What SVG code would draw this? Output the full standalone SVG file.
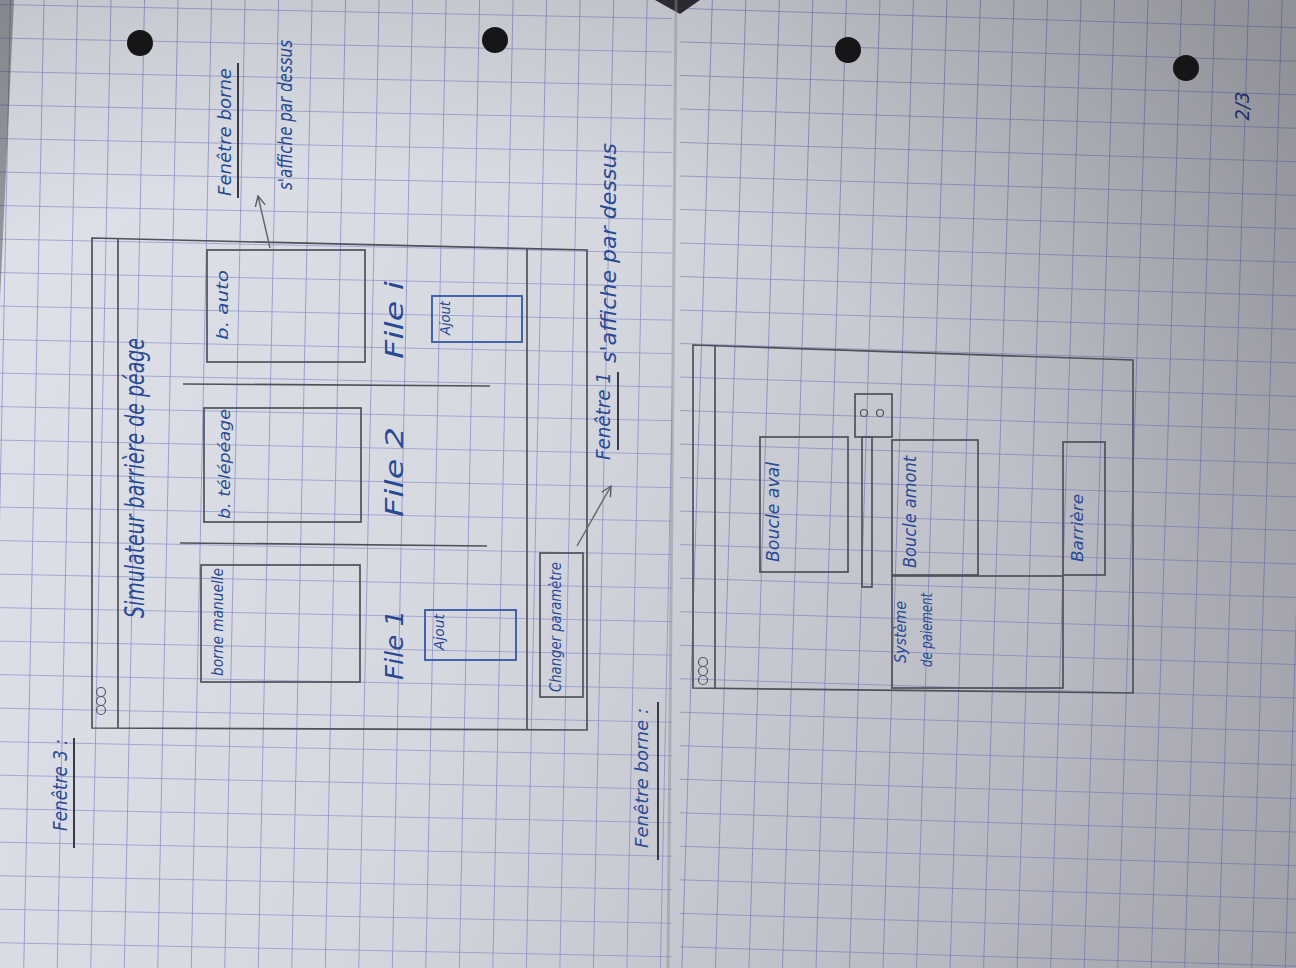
<svg xmlns="http://www.w3.org/2000/svg" width="1296" height="968" viewBox="0 0 1296 968">
<defs>
<linearGradient id="paper" x1="0" y1="0" x2="1" y2="0.3">
<stop offset="0" stop-color="#dfe2ea"/>
<stop offset="0.5" stop-color="#d6d8e0"/>
<stop offset="1" stop-color="#b4b5be"/>
</linearGradient>
<radialGradient id="vig" cx="0.3" cy="0.7" r="0.95">
<stop offset="0.55" stop-color="#000" stop-opacity="0"/>
<stop offset="1" stop-color="#000" stop-opacity="0.22"/>
</radialGradient>
<pattern id="gridL" width="33.5" height="33.5" patternUnits="userSpaceOnUse" x="10" y="4" patternTransform="rotate(1.2)">
<path d="M0 0H33.5M0 0V33.5" fill="none" stroke="#8487c4" stroke-width="1.7" stroke-opacity="0.85"/>
</pattern>
<pattern id="gridR" width="33.5" height="33.5" patternUnits="userSpaceOnUse" x="8" y="20" patternTransform="rotate(1.8)">
<path d="M0 0H33.5M0 0V33.5" fill="none" stroke="#7a7cb4" stroke-width="1.7" stroke-opacity="0.85"/>
</pattern>
<marker id="arr" viewBox="0 0 12 12" refX="11" refY="6" markerWidth="12" markerHeight="12" markerUnits="userSpaceOnUse" orient="auto">
<path d="M1 1L11 6L1 11" fill="none" stroke="#5a5a60" stroke-width="1.4"/>
</marker>
</defs>
<style>
.box{fill:none;stroke:#505158;stroke-width:1.7}
.bbox{fill:none;stroke:#3b5ea6;stroke-width:1.9}
.ink{font-family:"DejaVu Sans Condensed","Liberation Sans",sans-serif;font-style:italic;fill:#284a94;text-anchor:middle;dominant-baseline:central}
.ul{stroke:#3a3a44;stroke-width:2}
.con{fill:none;stroke:#6a6a70;stroke-width:1.5}
.btn{fill:none;stroke:#55565c;stroke-width:1.2}
</style>
<rect width="1296" height="968" fill="url(#paper)"/>
<rect x="0" y="0" width="672" height="968" fill="url(#gridL)"/>
<rect x="680" y="0" width="616" height="968" fill="url(#gridR)"/>
<rect width="1296" height="968" fill="url(#vig)"/>
<polygon points="0,0 14,0 0,300" fill="#3a3b40" opacity="0.45"/>
<polygon points="655,0 700,0 680,14" fill="#2a2a30"/>
<line x1="676" y1="0" x2="668" y2="968" stroke="#8a8a94" stroke-width="3" opacity="0.45"/>
<g id="holes" fill="#161618">
<circle cx="140" cy="43" r="13"/>
<circle cx="495" cy="40" r="13"/>
<circle cx="848" cy="50" r="13"/>
<circle cx="1186" cy="68" r="13"/>
</g>

<g id="label-fenetre3">
<text class="ink" transform="translate(60,785) rotate(-90)" font-size="20" textLength="92" lengthAdjust="spacingAndGlyphs">Fenêtre 3 :</text>
<line class="ul" x1="74" y1="738" x2="74" y2="848"/>
</g>

<g id="window1">
<path class="box" d="M92 238L587 250L587 730L92 728Z"/>
<line class="box" x1="118" y1="239" x2="118" y2="728"/>
<line class="box" x1="527" y1="249" x2="527" y2="730"/>
<g class="btn"><circle cx="101" cy="692" r="4.5"/><circle cx="101" cy="701" r="4.5"/><circle cx="101" cy="710" r="4.5"/></g>
<text class="ink" transform="translate(135,478) rotate(-90)" font-size="26" textLength="280" lengthAdjust="spacingAndGlyphs">Simulateur barrière de péage</text>
<line class="box" x1="183" y1="384" x2="490" y2="386"/>
<line class="box" x1="180" y1="543" x2="487" y2="546"/>
</g>

<g id="box-bauto">
<rect class="box" x="207" y="250" width="158" height="112"/>
<text class="ink" transform="translate(222,305) rotate(-90)" font-size="16" textLength="70" lengthAdjust="spacingAndGlyphs">b. auto</text>
</g>
<g id="box-btelepeage">
<rect class="box" x="204" y="408" width="157" height="114"/>
<text class="ink" transform="translate(224,464) rotate(-90)" font-size="16" textLength="110" lengthAdjust="spacingAndGlyphs">b. télépéage</text>
</g>
<g id="box-borne-manuelle">
<rect class="box" x="201" y="565" width="159" height="117"/>
<text class="ink" transform="translate(217,622) rotate(-90)" font-size="16" textLength="108" lengthAdjust="spacingAndGlyphs">borne manuelle</text>
</g>

<g id="file1">
<text class="ink" transform="translate(395,645) rotate(-90)" font-size="24" textLength="70" lengthAdjust="spacingAndGlyphs">File 1</text>
<rect class="bbox" x="425" y="610" width="91" height="50"/>
<text class="ink" transform="translate(439,632) rotate(-90)" font-size="14" textLength="36" lengthAdjust="spacingAndGlyphs">Ajout</text>
</g>
<g id="file2">
<text class="ink" transform="translate(395,472) rotate(-90)" font-size="24" textLength="90" lengthAdjust="spacingAndGlyphs">File 2</text>
</g>
<g id="filei">
<text class="ink" transform="translate(395,320) rotate(-90)" font-size="24" textLength="78" lengthAdjust="spacingAndGlyphs">File i</text>
<rect class="bbox" x="432" y="296" width="90" height="46"/>
<text class="ink" transform="translate(445,318) rotate(-90)" font-size="14" textLength="34" lengthAdjust="spacingAndGlyphs">Ajout</text>
</g>

<g id="btn-changer">
<rect class="box" x="540" y="553" width="43" height="144"/>
<text class="ink" transform="translate(556,627) rotate(-90)" font-size="15" textLength="130" lengthAdjust="spacingAndGlyphs">Changer paramètre</text>
</g>

<g id="note-fenetre-borne">
<text class="ink" transform="translate(224,132) rotate(-90)" font-size="18" textLength="128" lengthAdjust="spacingAndGlyphs">Fenêtre borne</text>
<line class="ul" x1="238" y1="63" x2="238" y2="198"/>
<text class="ink" transform="translate(285,115) rotate(-90)" font-size="20" textLength="150" lengthAdjust="spacingAndGlyphs">s'affiche par dessus</text>
</g>

<g id="note-fenetre1">
<text class="ink" transform="translate(603,416) rotate(-90)" font-size="20" textLength="88" lengthAdjust="spacingAndGlyphs">Fenêtre 1</text>
<line class="ul" x1="618" y1="372" x2="618" y2="450"/>
<text class="ink" transform="translate(608,253) rotate(-90)" font-size="22" textLength="220" lengthAdjust="spacingAndGlyphs">s'affiche par dessus</text>
</g>

<g id="connectors">
<line class="con" x1="270" y1="248" x2="258" y2="196" marker-end="url(#arr)"/>
<line class="con" x1="577" y1="546" x2="611" y2="486" marker-end="url(#arr)"/>
</g>

<g id="label-fenetre-borne">
<text class="ink" transform="translate(641,778) rotate(-90)" font-size="18" textLength="140" lengthAdjust="spacingAndGlyphs">Fenêtre borne :</text>
<line class="ul" x1="658" y1="702" x2="658" y2="860"/>
</g>

<g id="window2">
<path class="box" d="M693 345L1133 360L1133 693L693 688Z"/>
<line class="box" x1="715" y1="346" x2="715" y2="689"/>
<g class="btn"><circle cx="703" cy="662" r="4.5"/><circle cx="703" cy="671" r="4.5"/><circle cx="703" cy="680" r="4.5"/></g>
</g>

<g id="box-boucle-aval">
<rect class="box" x="760" y="437" width="88" height="135"/>
<text class="ink" transform="translate(773,512) rotate(-90)" font-size="17" textLength="100" lengthAdjust="spacingAndGlyphs">Boucle aval</text>
</g>
<g id="feu">
<rect class="box" x="855" y="394" width="37" height="43"/>
<g class="btn"><circle cx="864" cy="413" r="3.5"/><circle cx="880" cy="413" r="3.5"/></g>
<rect class="box" x="862" y="437" width="10" height="150"/>
</g>
<g id="box-boucle-amont">
<rect class="box" x="892" y="440" width="86" height="135"/>
<text class="ink" transform="translate(910,512) rotate(-90)" font-size="17" textLength="112" lengthAdjust="spacingAndGlyphs">Boucle amont</text>
</g>
<g id="box-systeme-paiement">
<rect class="box" x="892" y="576" width="171" height="112"/>
<text class="ink" transform="translate(900,632) rotate(-90)" font-size="16" textLength="62" lengthAdjust="spacingAndGlyphs">Système</text>
<text class="ink" transform="translate(926,630) rotate(-90)" font-size="16" textLength="74" lengthAdjust="spacingAndGlyphs">de paiement</text>
</g>
<g id="box-barriere">
<rect class="box" x="1063" y="442" width="42" height="133"/>
<text class="ink" transform="translate(1078,528) rotate(-90)" font-size="15" textLength="68" lengthAdjust="spacingAndGlyphs">Barrière</text>
</g>

<g id="page-number">
<text class="ink" transform="translate(1242,106) rotate(-90)" font-size="20" style="fill:#1f2f66">2/3</text>
</g>
</svg>
